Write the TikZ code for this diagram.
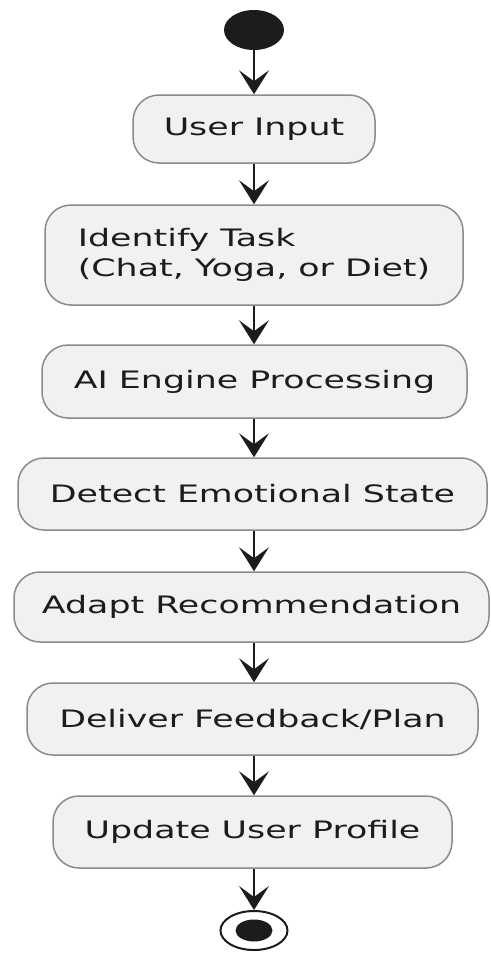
\documentclass[tikz,border=0pt]{standalone}
\usepackage{fontspec}
\setmainfont[FakeStretch=1.45]{DejaVu Sans}
\usetikzlibrary{shapes.geometric,arrows.meta}
\definecolor{boxfill}{HTML}{F1F1F1}
\definecolor{boxline}{HTML}{8A8A8A}
\definecolor{ink}{HTML}{1C1C1C}
\begin{document}
\begin{tikzpicture}[x=1pt,y=-1pt,
  act/.style={rectangle, rounded corners=26pt, draw=boxline, line width=1.5pt, fill=boxfill,
    inner sep=0pt, text=ink, font=\fontsize{24}{30}\selectfont},
  arr/.style={draw=ink, line width=2pt, -{Stealth[length=24pt,width=30pt,inset=11pt]}},
  dot/.style={ellipse, fill=ink, inner sep=0pt}]
\useasboundingbox (0,0) rectangle (490,953);
\node[dot, minimum width=60pt, minimum height=40pt] (start) at (254,30) {};
\node[act, minimum width=242pt, minimum height=68pt] (n1) at (254,129) {User Input};
\node[act, minimum width=418pt, minimum height=100pt, align=left] (n2) at (254,255) {Identify Task\\(Chat, Yoga, or Diet)};
\node[act, minimum width=425pt, minimum height=73pt] (n3) at (254.5,381.5) {AI Engine Processing};
\node[act, minimum width=469pt, minimum height=72pt] (n4) at (252.5,494) {Detect Emotional State};
\node[act, minimum width=475pt, minimum height=70pt] (n5) at (251.5,607) {Adapt Recommendation};
\node[act, minimum width=451pt, minimum height=72pt] (n6) at (252.5,719) {Deliver Feedback/Plan};
\node[act, minimum width=399pt, minimum height=72pt] (n7) at (252.5,832) {Update User Profile};
\node[ellipse, draw=ink, line width=2pt, fill=white, minimum width=67pt, minimum height=39pt, inner sep=0pt] (end) at (254,930.5) {};
\node[dot, minimum width=37pt, minimum height=22pt] (endin) at (254,930.5) {};
\draw[arr] (start) -- (start |- n1.north);
\draw[arr] (start |- n1.south) -- (start |- n2.north);
\draw[arr] (start |- n2.south) -- (start |- n3.north);
\draw[arr] (start |- n3.south) -- (start |- n4.north);
\draw[arr] (start |- n4.south) -- (start |- n5.north);
\draw[arr] (start |- n5.south) -- (start |- n6.north);
\draw[arr] (start |- n6.south) -- (start |- n7.north);
\draw[arr] (start |- n7.south) -- (end);
\end{tikzpicture}
\end{document}
